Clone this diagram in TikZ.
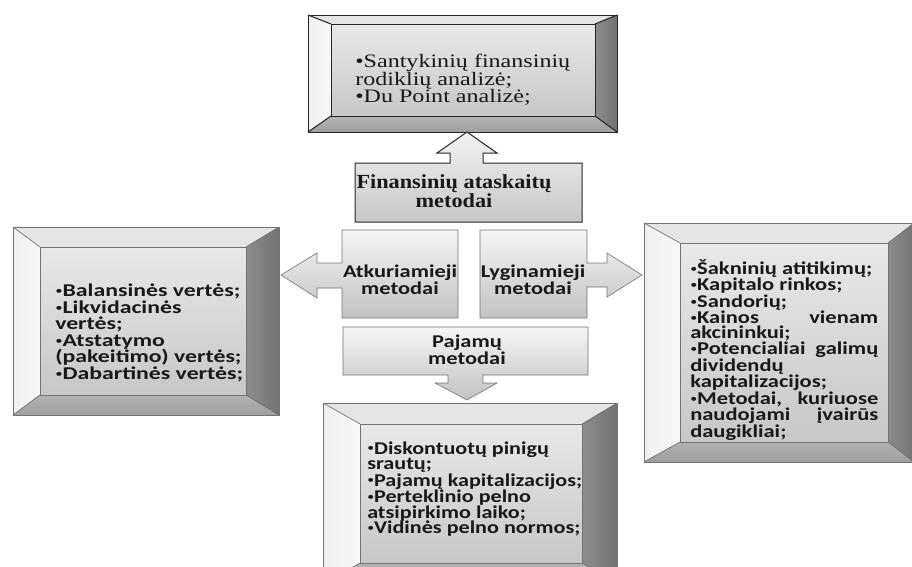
\documentclass[tikz,border=0pt]{standalone}
\usepackage{fontspec}
\usepackage{graphicx}
\newfontfamily\boxsans{Carlito}
\newfontfamily\boxserif{Liberation Serif}
% small list bullet for the sans-serif panels
\newcommand\sbul{{\mdseries\raisebox{0.12em}{\scalebox{0.62}{•}}}}

% text fonts
\newcommand\ftitle{\boxserif\bfseries\fontsize{20}{17.5}\selectfont}
\newcommand\fserif{\boxserif\fontsize{19}{17}\selectfont}
\newcommand\fhead{\boxsans\bfseries\fontsize{18}{15}\selectfont}
\newcommand\flist[1]{\boxsans\bfseries\fontsize{18}{#1}\selectfont}

% horizontal stretch factor that gives a sample line a wanted width
\newsavebox\measbox
\newlength\measlen
\newcommand\fitfactor[4]{% macro, font, sample, width in pt
  \sbox\measbox{#2#3}\setlength\measlen{\wd\measbox}%
  \pgfmathsetmacro#1{#4/\measlen}}

% bevelled panel: [frame style] name, outer top-left, outer bottom-right, inner top-left, inner bottom-right
\newcommand\bevelbox[6][frame]{%
  \coordinate (#2-o1) at (#3);
  \coordinate (#2-o2) at (#4);
  \coordinate (#2-i1) at (#5);
  \coordinate (#2-i2) at (#6);
  \fill[bevtop]    (#2-o1) -- (#2-o1 -| #2-o2) -- (#2-i1 -| #2-i2) -- (#2-i1) -- cycle;
  \fill[bevleft]   (#2-o1) -- (#2-i1) -- (#2-i2 -| #2-i1) -- (#2-o2 -| #2-o1) -- cycle;
  \fill[bevright]  (#2-o1 -| #2-o2) -- (#2-o2) -- (#2-i2) -- (#2-i1 -| #2-i2) -- cycle;
  \fill[bevbottom] (#2-o2 -| #2-o1) -- (#2-i2 -| #2-i1) -- (#2-i2) -- (#2-o2) -- cycle;
  \fill[panel] (#2-i1) rectangle (#2-i2);
  \draw[#1] (#2-o1) rectangle (#2-o2);
  \draw[#1] (#2-i1) rectangle (#2-i2);
  \draw[#1] (#2-o1) -- (#2-i1) (#2-o1 -| #2-o2) -- (#2-i1 -| #2-i2)
            (#2-o2) -- (#2-i2) (#2-o2 -| #2-o1) -- (#2-i2 -| #2-i1);
}

\begin{document}
% stretch factors of the text blocks
\fitfactor\sTitle{\ftitle}{Finansinių ataskaitų}{195}%
\fitfactor\sTop{\fserif}{•Santykinių finansinių}{215}%
\fitfactor\sHead{\fhead}{Atkuriamieji}{114}%
\fitfactor\sLeft{\flist{16.5}}{\sbul Balansinės vertės;}{185}%
\fitfactor\sRight{\flist{14.7}}{\sbul Šakninių atitikimų;}{182}%
\fitfactor\sBottom{\flist{15.5}}{\sbul Pajamų kapitalizacijos;}{215}%
\pgfmathsetmacro\rightwidth{188/\sRight}%
\begin{tikzpicture}[x=1pt,y=-1pt,
  bevtop/.style={fill=black!10},
  bevleft/.style={left color=black!6, right color=black!3},
  bevright/.style={left color=black!45, right color=black!55},
  bevbottom/.style={top color=black!30, bottom color=black!38},
  panel/.style={top color=black!9, bottom color=black!22},
  frame/.style={draw=black!55, line width=0.6pt},
  darkframe/.style={draw=black!85, line width=1pt},
  callout/.style={top color=black!4, bottom color=black!24, draw=black!55, line width=0.6pt},
  darkcallout/.style={top color=black!5, bottom color=black!22, draw=black!85, line width=1pt},
  txt/.style={inner sep=0pt, text=black!90},
]
\useasboundingbox (0,0) rectangle (912,566);
\begin{scope}
\clip (0,0) rectangle (912,566);

% bevelled result panels
\bevelbox[darkframe]{top}{308,15}{617,132}{331,24}{595,116}
\bevelbox{left}{13,227}{279,415}{40,247}{246,395}
\bevelbox{right}{644,223}{914,462}{680,243}{888,442}
\bevelbox{bottom}{323,403}{617,585}{360,424}{582,563}

% central method shapes with their pointers
\draw[darkcallout] (355,222) -- (355,163) -- (450,163) -- (450,153) -- (437,153)
  -- (467,132) -- (497,153) -- (483,153) -- (483,163) -- (582,163) -- (582,222) -- cycle;
\draw[callout] (458,230) -- (342,230) -- (342,263) -- (317,263) -- (317,253)
  -- (281,275) -- (317,298) -- (317,288) -- (342,288) -- (342,318) -- (458,318) -- cycle;
\draw[callout] (480,230) -- (587,230) -- (587,263) -- (607,263) -- (607,253)
  -- (642,275) -- (607,297) -- (607,287) -- (587,287) -- (587,318) -- (480,318) -- cycle;
\draw[callout] (343,327) -- (588,327) -- (588,375) -- (483,375) -- (483,383) -- (497,383)
  -- (467,400) -- (435,383) -- (448,383) -- (448,375) -- (343,375) -- cycle;
\end{scope}

% labels
\node[txt, align=center, xscale=\sTitle, font=\ftitle] (fin) at (454,191)
  {Finansinių ataskaitų\\metodai};
\node[txt, align=center, xscale=\sHead, font=\fhead] (atk) at (400,280) {Atkuriamieji\\metodai};
\node[txt, align=center, xscale=\sHead, font=\fhead] (lyg) at (533,280) {Lyginamieji\\metodai};
\node[txt, align=center, xscale=\sHead, font=\fhead] (paj) at (467,350) {Pajamų\\metodai};

\node[txt, align=left, anchor=west, xscale=\sTop, font=\fserif] (toptext) at (355,80)
  {•Santykinių finansinių\\rodiklių analizė;\\•Du Point analizė;};

\node[txt, align=left, anchor=west, xscale=\sLeft, font=\flist{16.5}] (lefttext) at (55,333)
  {\sbul Balansinės vertės;\\\sbul Likvidacinės\\vertės;\\\sbul Atstatymo\\(pakeitimo) vertės;\\\sbul Dabartinės vertės;};

\node[txt, align=left, anchor=west, xscale=\sRight, font=\flist{14.7}] (righttext) at (690,350)
  {\sbul Šakninių atitikimų;\\\sbul Kapitalo rinkos;\\\sbul Sandorių;\\
   \makebox[\rightwidth pt][s]{\sbul Kainos vienam}\\akcininkui;\\
   \makebox[\rightwidth pt][s]{\sbul Potencialiai galimų}\\dividendų\\kapitalizacijos;\\
   \makebox[\rightwidth pt][s]{\sbul Metodai, kuriuose}\\\makebox[\rightwidth pt][s]{naudojami įvairūs}\\daugikliai;};

\node[txt, align=left, anchor=west, xscale=\sBottom, font=\flist{15.5}] (bottomtext) at (367,489)
  {\sbul Diskontuotų pinigų\\srautų;\\\sbul Pajamų kapitalizacijos;\\\sbul Perteklinio pelno\\atsipirkimo laiko;\\\sbul Vidinės pelno normos;};
\end{tikzpicture}
\end{document}
